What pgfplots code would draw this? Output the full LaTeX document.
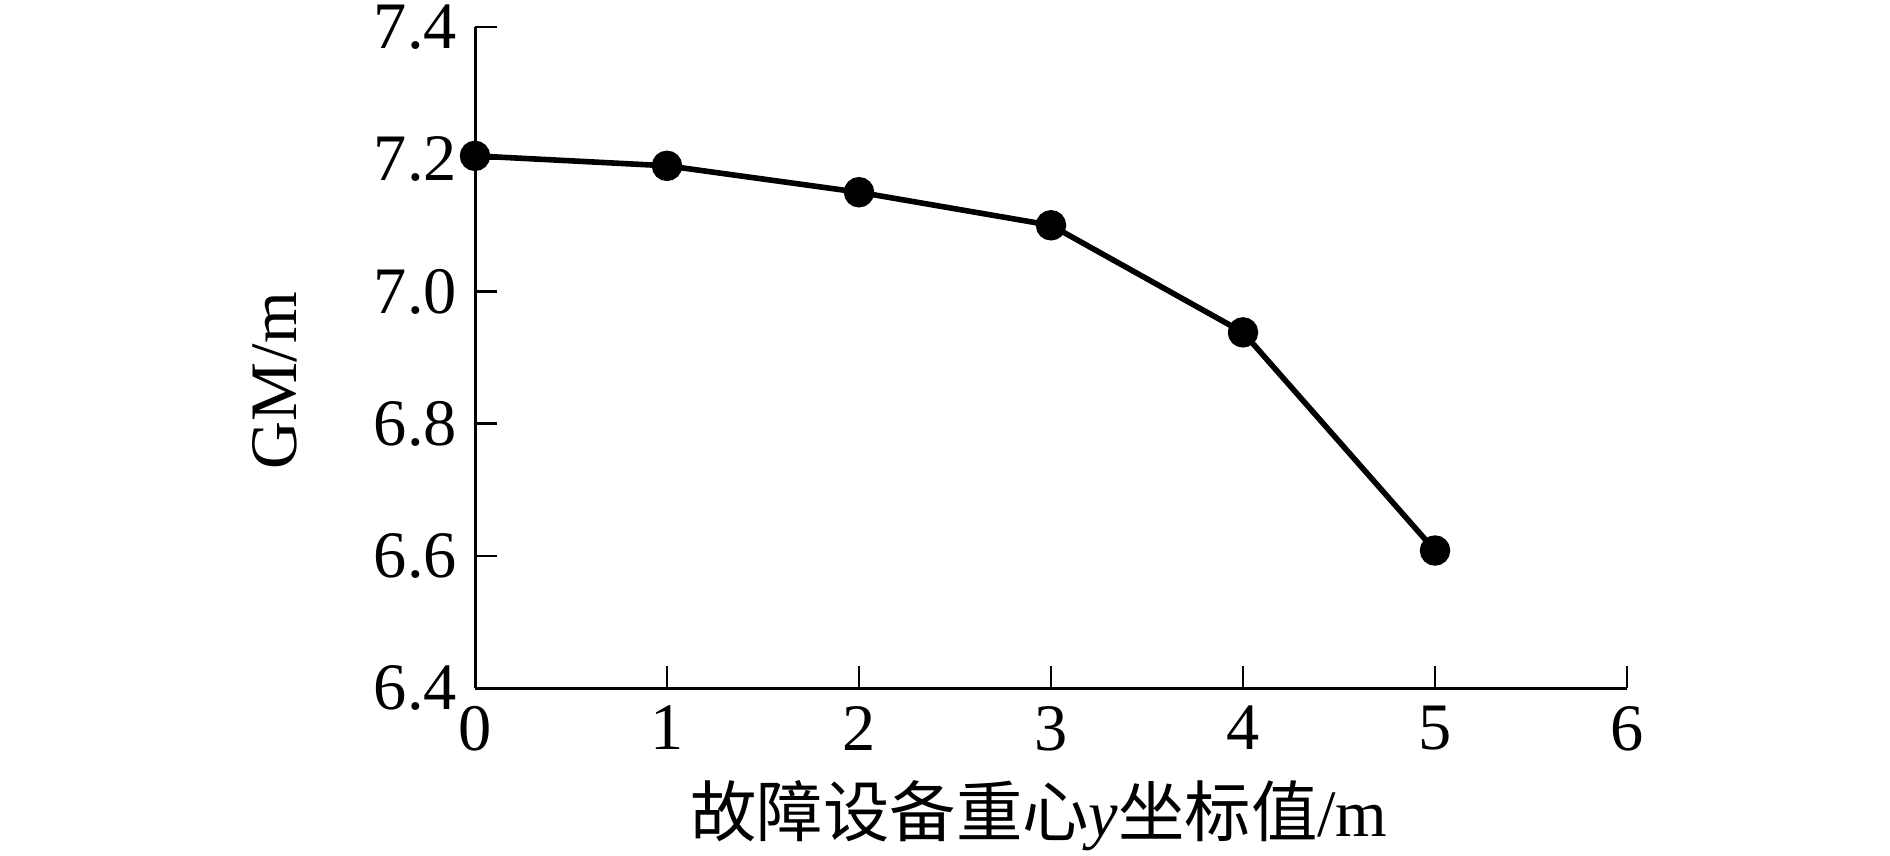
\documentclass[border=0pt]{standalone}
\usepackage{fontspec}
\setmainfont{Liberation Serif}
\newfontfamily\cjk{Noto Sans CJK SC}
\usepackage{pgfplots}
\pgfplotsset{compat=1.18}

\begin{document}
\begin{tikzpicture}
\begin{axis}[
  at={(0,0)}, anchor=south west,
  scale only axis,
  width=288pt, height=165.25pt,
  xmin=0, xmax=6,
  ymin=6.4, ymax=7.4,
  xtick={0,1,2,3,4,5,6},
  ytick={6.4,6.6,6.8,7.0,7.2,7.4},
  yticklabel style={/pgf/number format/fixed, /pgf/number format/fixed zerofill, /pgf/number format/precision=1},
  /pgf/number format/assume math mode=true,
  axis x line*=bottom,
  axis y line*=left,
  tick align=inside,
  major tick length=5.5pt,
  axis line style={line width=0.75pt},
  tick style={line width=0.6pt, black},
  tick label style={font=\fontsize{16.6}{20}\selectfont},
  xticklabel style={yshift=-1pt},
  yticklabel style={xshift=-1pt},
  label style={font=\fontsize{16.6}{20}\selectfont},
  xlabel={{\cjk 故障设备重心}\textit{y}{\cjk 坐标值}/m},
  xlabel style={at={(axis description cs:0.5,0)}, anchor=center, yshift=-32pt, xshift=-3pt},
  ylabel={GM/m},
  ylabel style={at={(axis description cs:0,0.5)}, anchor=center, rotate=0, yshift=50pt, xshift=-5.75pt},
  clip=false,
]
\addplot[black, line width=1.4pt, mark=*, mark size=3.1pt] coordinates {
  (0, 7.205) (1, 7.190) (2, 7.150) (3, 7.100) (4, 6.938) (5, 6.608)
};
\end{axis}
\pgfresetboundingbox
\path[use as bounding box] (-118.75pt,-41.75pt) rectangle (353.75pt,172pt);
\end{tikzpicture}
\end{document}
